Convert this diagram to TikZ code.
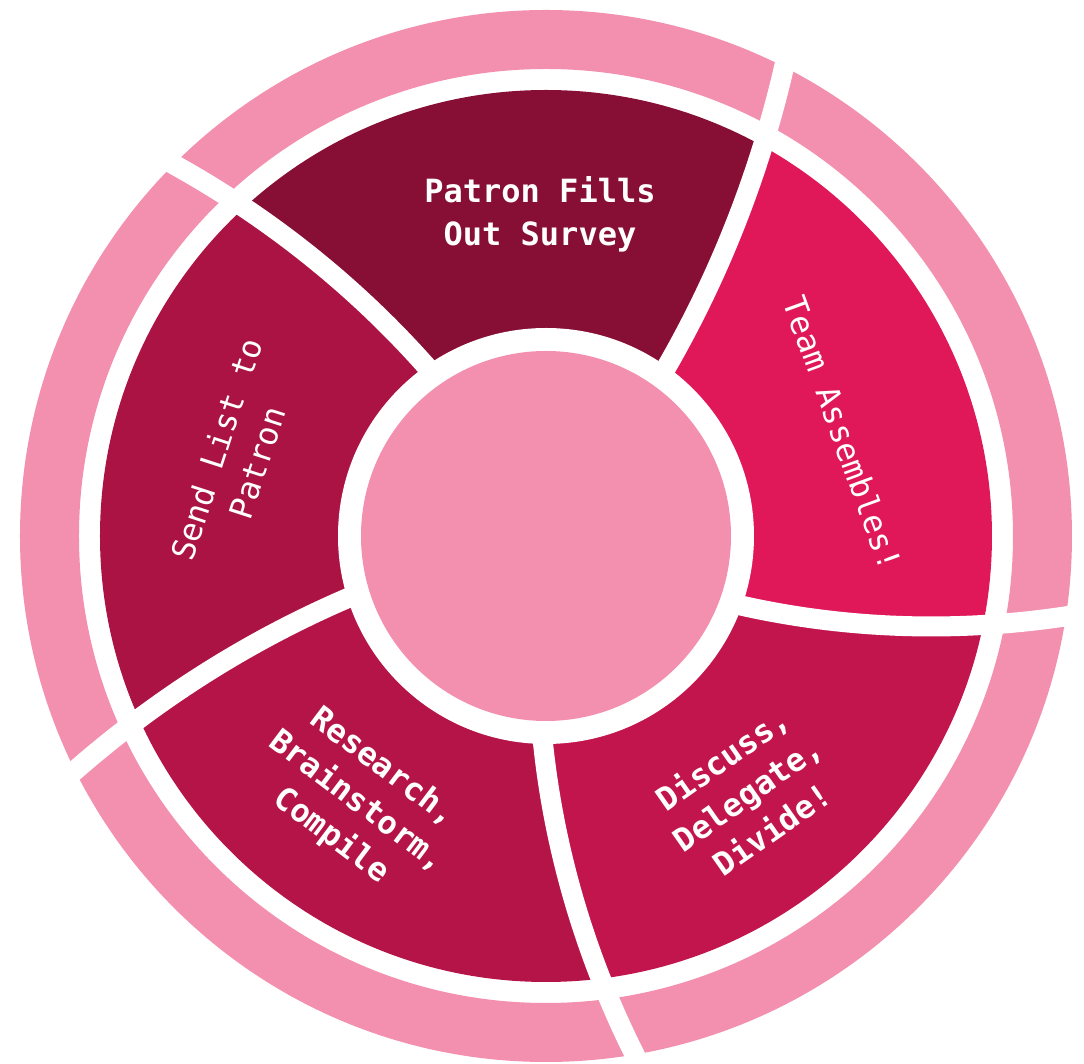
\documentclass[tikz,border=0pt]{standalone}
\usepackage{fontspec}
\newfontfamily\stagefont{DejaVu Sans Mono}
\definecolor{ringpink}{RGB}{243,144,175}
\definecolor{surveycol}{RGB}{135,14,53}
\definecolor{teamcol}{RGB}{224,24,90}
\definecolor{discusscol}{RGB}{194,21,77}
\definecolor{researchcol}{RGB}{181,20,72}
\definecolor{sendcol}{RGB}{171,19,68}
\begin{document}
\begin{tikzpicture}[x=0.5pt, y=0.5pt,
      stagetxt/.style = {text=white, align=center,
        font=\stagefont\fontsize{16pt}{21.5pt}\selectfont},
      stagebold/.style = {stagetxt,
        font=\stagefont\bfseries\fontsize{16pt}{21.5pt}\selectfont},
      gapline/.style = {draw=white, line width=10pt}]
    \useasboundingbox (-546,-528) rectangle (538,536);

    % stage segments
    \begin{scope}
      \clip (0,0) circle (446);
      \foreach \a/\ka/\b/\kb/\c in {54.5/0.027/125.2/0.031/surveycol,
          -19.6/0.034/54.5/0.027/teamcol,
          -90.8/0.033/-19.6/0.034/discusscol,
          -162.6/0.0285/-90.8/0.033/researchcol,
          125.2/0.031/197.4/0.0285/sendcol}
        \fill[\c] (0,0) -- plot[domain=150:700, samples=40] ({\a+\ka*(\x-208)}:\x)
          -- plot[domain=700:150, samples=40] ({\b+\kb*(\x-208)}:\x) -- cycle;
    \end{scope}

    % outer ring
    \draw[ringpink, line width=29.5pt] (0,0) circle (496.5);

    % gaps
    \foreach \a/\k in {54.5/0.027, -19.6/0.034, -90.8/0.033, -162.6/0.0285, 125.2/0.031}
      \draw[gapline] plot[domain=180:550, samples=50] ({\a+\k*(\x-208)}:\x);

    % hub
    \fill[white] (0,0) circle (208);
    \fill[ringpink] (0,0) circle (185);

    % labels
    \node[stagebold] (survey) at (-6,322) {Patron Fills\\Out Survey};
    \node[stagetxt, rotate=-70] (team) at (297,103) {Team Assembles!};
    \node[stagebold, rotate=35] (discuss) at (201,-257) {Discuss,\\Delegate,\\Divide!};
    \node[stagebold, rotate=-37] (research) at (-189,-266) {Research,\\Brainstorm,\\Compile};
    \node[stagetxt, rotate=72] (sendlist) at (-309,80) {Send List to\\Patron};

  \end{tikzpicture}
\end{document}
